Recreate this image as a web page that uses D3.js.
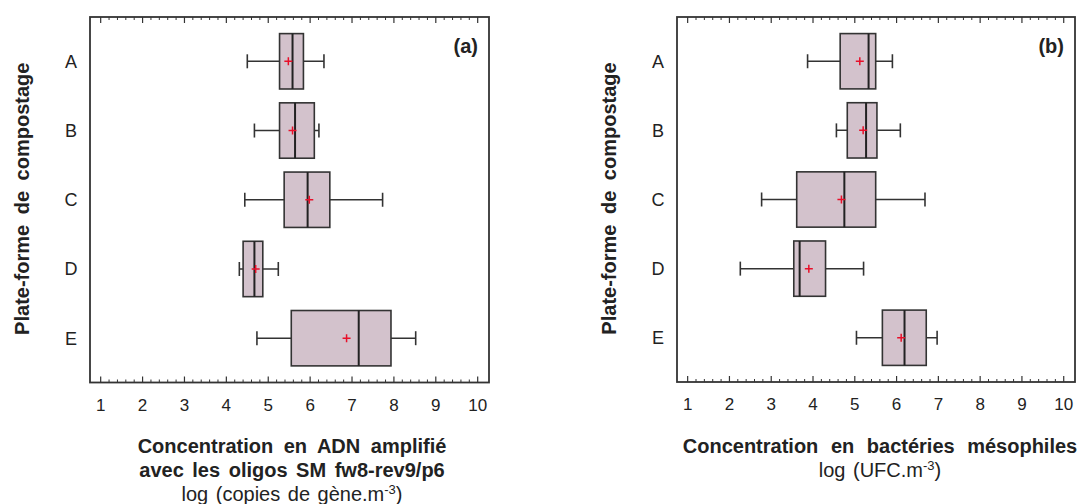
<!DOCTYPE html>
<html>
<head>
<meta charset="utf-8">
<script src="https://cdn.jsdelivr.net/npm/d3@7"></script>
<style>
  body { margin: 0; background: #fff; }
  svg { font-family: "Liberation Sans", Arial, sans-serif; }
</style>
</head>
<body>
<div id="chart"></div>
<script>
// categories (composting platforms)
const platforms = ["A", "B", "C", "D", "E"];
const tickValues = [1, 2, 3, 4, 5, 6, 7, 8, 9, 10];

// panel (a): DNA amplified with SM fw8-rev9/p6 oligos, log(copies/m3)
const dnaMin    = [4.50, 4.67, 4.44, 4.31, 4.73];
const dnaQ1     = [5.27, 5.27, 5.38, 4.40, 5.55];
const dnaMedian = [5.58, 5.64, 5.94, 4.67, 7.16];
const dnaQ3     = [5.84, 6.10, 6.47, 4.87, 7.93];
const dnaMax    = [6.33, 6.21, 7.73, 5.24, 8.52];
const dnaMean   = [5.48, 5.58, 5.98, 4.70, 6.87];

// panel (b): mesophilic bacteria, log(UFC/m3)
const bactMin    = [3.87, 4.56, 2.77, 2.26, 5.04];
const bactQ1     = [4.65, 4.82, 3.61, 3.54, 5.66];
const bactMedian = [5.33, 5.27, 4.75, 3.68, 6.19];
const bactQ3     = [5.50, 5.53, 5.50, 4.30, 6.71];
const bactMax    = [5.90, 6.09, 6.68, 5.21, 6.97];
const bactMean   = [5.12, 5.20, 4.68, 3.90, 6.11];

const width = 1079, height = 504;
const stroke = "#333";
const textColor = "#222";

const svg = d3.select("#chart").append("svg")
    .attr("width", width)
    .attr("height", height);

function drawPanel(opts) {
    const x = d3.scaleLinear().domain([0.745, 10.27]).range([opts.left, opts.right]);
    const y = d3.scalePoint().domain(platforms).range([opts.top, opts.bottom]).padding(0.64);
    const boxH = y.step() * 0.8;
    const capH = 7;

    const g = svg.append("g");

    // top and bottom axes, ticks pointing inward (major + minor every 0.2)
    const minor = d3.range(1, 10.01, 0.2).map(v => +v.toFixed(1)).filter(v => !Number.isInteger(v));
    [[opts.bottom, -1], [opts.top, 1]].forEach(([yy, dir]) => {
        g.append("g").selectAll("line").data(tickValues).join("line")
            .attr("x1", d => x(d)).attr("x2", d => x(d))
            .attr("y1", yy).attr("y2", yy + dir * 6)
            .attr("stroke", stroke).attr("stroke-width", 1.2);
        g.append("g").selectAll("line").data(minor).join("line")
            .attr("x1", d => x(d)).attr("x2", d => x(d))
            .attr("y1", yy).attr("y2", yy + dir * 3)
            .attr("stroke", stroke).attr("stroke-width", 1);
    });

    // frame
    g.append("rect")
        .attr("x", opts.left).attr("y", opts.top)
        .attr("width", opts.right - opts.left).attr("height", opts.bottom - opts.top)
        .attr("fill", "none").attr("stroke", stroke).attr("stroke-width", 1.8);

    // tick labels
    g.append("g").selectAll("text").data(tickValues).join("text")
        .attr("x", d => x(d)).attr("y", opts.bottom + 28)
        .attr("text-anchor", "middle")
        .attr("font-size", 17).attr("fill", textColor)
        .text(d => d);

    // category labels
    g.append("g").selectAll("text").data(platforms).join("text")
        .attr("x", opts.left - 19).attr("y", d => y(d) + 6.5)
        .attr("text-anchor", "middle")
        .attr("font-size", 18).attr("fill", textColor)
        .text(d => d);

    // y title
    g.append("text")
        .attr("transform", `translate(${opts.left - 61},${(opts.top + opts.bottom) / 2 - 1}) rotate(-90)`)
        .attr("text-anchor", "middle")
        .attr("font-size", 20).attr("font-weight", "bold").attr("fill", textColor)
        .attr("word-spacing", 5)
        .text("Plate-forme de compostage");

    const boxes = g.append("g").selectAll("g").data(platforms).join("g");

    // whiskers
    boxes.append("line")
        .attr("x1", (d, i) => x(opts.min[i])).attr("x2", (d, i) => x(opts.max[i]))
        .attr("y1", d => y(d)).attr("y2", d => y(d))
        .attr("stroke", stroke).attr("stroke-width", 1.5);
    [opts.min, opts.max].forEach(arr => {
        boxes.append("line")
            .attr("x1", (d, i) => x(arr[i])).attr("x2", (d, i) => x(arr[i]))
            .attr("y1", d => y(d) - capH).attr("y2", d => y(d) + capH)
            .attr("stroke", stroke).attr("stroke-width", 1.6);
    });

    // box
    boxes.append("rect")
        .attr("x", (d, i) => x(opts.q1[i]))
        .attr("width", (d, i) => x(opts.q3[i]) - x(opts.q1[i]))
        .attr("y", d => y(d) - boxH / 2).attr("height", boxH)
        .attr("fill", "#d3c2cc").attr("stroke", stroke).attr("stroke-width", 1.6);

    // median
    boxes.append("line")
        .attr("x1", (d, i) => x(opts.median[i])).attr("x2", (d, i) => x(opts.median[i]))
        .attr("y1", d => y(d) - boxH / 2).attr("y2", d => y(d) + boxH / 2)
        .attr("stroke", "#222").attr("stroke-width", 2);

    // mean marker (red plus)
    boxes.append("path")
        .attr("d", (d, i) => {
            const cx = x(opts.mean[i]), cy = y(d);
            return `M${cx - 4},${cy}H${cx + 4}M${cx},${cy - 4}V${cy + 4}`;
        })
        .attr("stroke", "#e8102a").attr("stroke-width", 1.5);

    // panel letter
    g.append("text")
        .attr("x", opts.right - 11).attr("y", 53)
        .attr("text-anchor", "end")
        .attr("font-size", 20).attr("font-weight", "bold").attr("fill", textColor)
        .text(opts.letter);

    // x titles
    opts.titles.forEach((t, i) => {
        g.append("text")
            .attr("x", opts.titleX).attr("y", 452.5 + i * 24)
            .attr("text-anchor", "middle")
            .attr("font-size", 20)
            .attr("font-weight", t.bold ? "bold" : "normal")
            .attr("word-spacing", t.ws)
            .attr("fill", textColor)
            .html(t.text);
    });
}

drawPanel({
    left: 90, right: 489, top: 17, bottom: 382.5,
    min: dnaMin, q1: dnaQ1, median: dnaMedian, q3: dnaQ3, max: dnaMax, mean: dnaMean,
    letter: "(a)", titleX: 292,
    titles: [
        { text: "Concentration en ADN amplifié", bold: true, ws: 5 },
        { text: "avec les oligos SM fw8-rev9/p6", bold: true, ws: 3 },
        { text: "log (copies de gène.m<tspan dy='-7' font-size='13'>-3</tspan><tspan dy='7'>)</tspan>", bold: false, ws: 2 }
    ]
});

drawPanel({
    left: 677, right: 1075, top: 17, bottom: 382,
    min: bactMin, q1: bactQ1, median: bactMedian, q3: bactQ3, max: bactMax, mean: bactMean,
    letter: "(b)", titleX: 880,
    titles: [
        { text: "Concentration en bactéries mésophiles", bold: true, ws: 7 },
        { text: "log (UFC.m<tspan dy='-7' font-size='13'>-3</tspan><tspan dy='7'>)</tspan>", bold: false, ws: 2 }
    ]
});
</script>
</body>
</html>
